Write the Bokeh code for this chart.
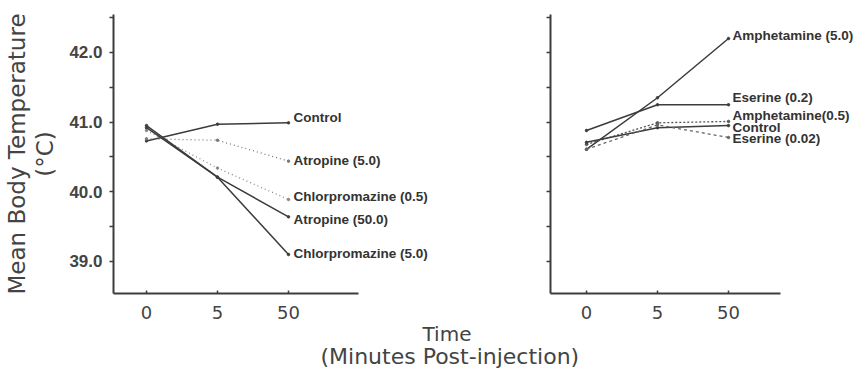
from bokeh.plotting import figure
from bokeh.models import Range1d, FixedTicker, LabelSet, ColumnDataSource, Title
from bokeh.core.properties import value
from bokeh.layouts import row
from bokeh.embed import file_html
from bokeh.resources import INLINE

# ---------------- data ----------------
time_labels = ["0", "5", "50"]          # minutes post-injection (evenly spaced categories)
time_pos = [0, 1, 2]

left_names = ["Control", "Atropine (5.0)", "Chlorpromazine (0.5)", "Atropine (50.0)", "Chlorpromazine (5.0)"]
left_control = [40.73, 40.97, 40.99]
left_atropine_5 = [40.76, 40.74, 40.44]
left_chlorpromazine_05 = [40.88, 40.34, 39.89]
left_atropine_50 = [40.92, 40.21, 39.64]
left_chlorpromazine_5 = [40.95, 40.21, 39.10]

right_names = ["Amphetamine (5.0)", "Eserine (0.2)", "Amphetamine(0.5)", "Control", "Eserine (0.02)"]
right_amphetamine_5 = [40.61, 41.35, 42.20]
right_eserine_02 = [40.88, 41.25, 41.25]
right_amphetamine_05 = [40.68, 40.99, 41.01]
right_control = [40.71, 40.92, 40.95]
right_eserine_002 = [40.61, 40.96, 40.78]

y_major = [39.0, 40.0, 41.0, 42.0]
y_minor = [38.5, 39.5, 40.5, 41.5, 42.5]
y_right_ticks = [39.0, 39.5, 40.0, 40.5, 41.0, 41.5, 42.0, 42.5]

# ---------------- styles ----------------
INK = "#3c3c3c"
left_styles = [("solid", 1.5, INK), ("1 3", 1.3, "#777777"), ("1 3", 1.3, "#888888"),
               ("solid", 1.5, INK), ("solid", 1.5, INK)]
left_label_dy = [5, 1, 3, -3, 1]
right_styles = [("solid", 1.5, INK), ("solid", 1.5, INK), ("2 2", 1.3, "#555555"),
                ("solid", 1.5, INK), ("3 3", 1.3, "#666666")]
right_label_dy = [3, 7, 6, -2, -1]

W = 864
H = 373
TOP = 14
BOTTOM = H - 293


def style_axes(p, xbounds):
    for ax in (p.xaxis, p.yaxis):
        ax.axis_line_color = INK
        ax.axis_line_width = 2
        ax.major_tick_line_color = INK
        ax.minor_tick_line_color = INK
        ax.major_tick_line_width = 1.5
        ax.minor_tick_line_width = 1.5
    p.xaxis.bounds = xbounds
    p.xaxis.ticker = FixedTicker(ticks=time_pos)
    p.xaxis.major_label_overrides = {t: s for t, s in zip(time_pos, time_labels)}
    p.xaxis.major_tick_in = 3
    p.xaxis.major_tick_out = 0
    p.xaxis.minor_tick_line_color = None
    p.xaxis.major_label_standoff = 12
    p.xaxis.major_label_text_font = "DejaVu Sans"
    p.xaxis.major_label_text_font_size = "18px"
    p.xaxis.major_label_text_color = "#444444"
    p.yaxis.ticker = FixedTicker(ticks=y_major, minor_ticks=y_minor)
    p.yaxis.major_tick_in = 0
    p.yaxis.major_tick_out = 4
    p.yaxis.minor_tick_in = 0
    p.yaxis.minor_tick_out = 4
    p.grid.visible = False
    p.outline_line_color = None


def draw(p, names, series, styles, dys, xoff):
    for vals, (dash, w, col) in zip(series, styles):
        p.line(time_pos, vals, line_color=col, line_width=w, line_dash=dash)
        p.scatter(time_pos, vals, size=2.5, color=col)
    src = ColumnDataSource(dict(x=[time_pos[-1]] * len(names), y=[s[-1] for s in series],
                                text=names, dy=dys))
    p.add_layout(LabelSet(x="x", y="y", text="text", source=src, x_offset=xoff, y_offset="dy",
                          text_font=value("Liberation Sans"), text_font_style="bold",
                          text_font_size="13.5px", text_color="#333333",
                          text_baseline="middle", text_align="left"))


# ---------------- left panel (full-width canvas) ----------------
# frame spans page x 113..440 so the series labels fit; axis line limited by bounds
p1 = figure(width=W, height=H, output_backend="svg", toolbar_location=None,
            x_range=Range1d(-0.465, 4.141), y_range=Range1d(38.54, 42.545),
            min_border_left=113, min_border_right=W - 113 - 327, min_border_top=TOP,
            min_border_bottom=BOTTOM)
style_axes(p1, (-0.465, 2.986))
p1.yaxis.major_label_overrides = {v: f"{v:.1f}" for v in y_major}
p1.yaxis.major_label_text_font = "Liberation Sans"
p1.yaxis.major_label_text_font_style = "bold"
p1.yaxis.major_label_text_font_size = "17px"
p1.yaxis.major_label_text_color = "#444444"
p1.yaxis.major_label_standoff = 7
p1.yaxis.axis_label = "Mean Body Temperature\n(\u00b0C)"
p1.yaxis.axis_label_text_font = "DejaVu Sans"
p1.yaxis.axis_label_text_font_style = "normal"
p1.yaxis.axis_label_text_font_size = "23px"
p1.yaxis.axis_label_text_line_height = 1.1
p1.yaxis.axis_label_text_color = "#444444"
p1.yaxis.axis_label_standoff = 8

draw(p1, left_names, [left_control, left_atropine_5, left_chlorpromazine_05,
                      left_atropine_50, left_chlorpromazine_5], left_styles, left_label_dy, 5)

p1.add_layout(Title(text="Time", align="left", offset=309, standoff=-4,
                    text_font="DejaVu Sans", text_font_style="normal", text_font_size="20px",
                    text_color="#444444"), "below")
p1.add_layout(Title(text="(Minutes Post-injection)", align="left", offset=207, standoff=-4,
                    text_font="DejaVu Sans", text_font_style="normal", text_font_size="22px",
                    text_color="#444444"), "below")

# ---------------- right panel (overlaid on the right part of p1) ----------------
W2 = 384
p2 = figure(width=W2, height=H, output_backend="svg", toolbar_location=None,
            x_range=Range1d(-0.507, 3.915), y_range=Range1d(38.54, 42.545),
            min_border_left=70, min_border_right=0, min_border_top=TOP,
            min_border_bottom=BOTTOM,
            background_fill_color=None, border_fill_color=None)
p2.margin = (0, 0, 0, -W2)
style_axes(p2, (-0.507, 2.73))
p2.yaxis.ticker = FixedTicker(ticks=y_right_ticks)
p2.yaxis.major_label_overrides = {v: "" for v in y_right_ticks}
p2.yaxis.major_label_text_font_size = "1px"

draw(p2, right_names, [right_amphetamine_5, right_eserine_02, right_amphetamine_05,
                       right_control, right_eserine_002], right_styles, right_label_dy, 4)

layout = row(p1, p2)
open("out.html", "w").write(file_html(layout, INLINE))
